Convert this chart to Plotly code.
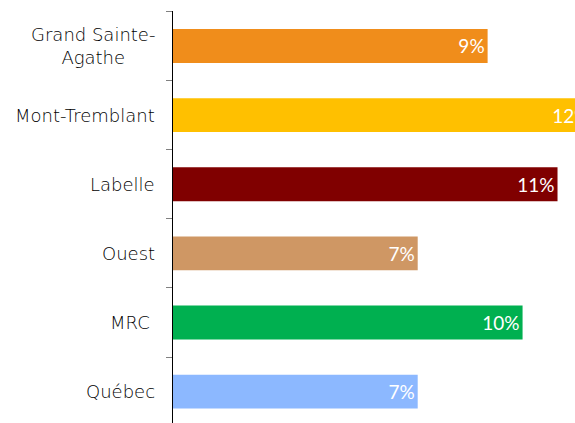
import plotly.graph_objects as go

categories = ["Grand Sainte-<br>Agathe", "Mont-Tremblant", "Labelle", "Ouest", "MRC\u00a0", "Québec"]
values = [9, 12, 11, 7, 10, 7]
labels = ["9%", "12%", "11%", "7%", "10%", "7%"]
colors = ["#F08D1B", "#FFC000", "#800000", "#CF9764", "#00B050", "#8CB8FF"]

pos = list(range(len(categories)))

fig = go.Figure()
fig.add_trace(go.Bar(
    x=values, y=pos, orientation="h", width=0.49,
    marker=dict(color=colors, line=dict(width=0)),
    text=labels, textposition="inside", insidetextanchor="end",
    textfont=dict(family="Lato", size=19, color="white"),
    constraintext="none", cliponaxis=True, hoverinfo="skip",
))

for p, c in zip(pos, categories):
    fig.add_annotation(x=0, xref="paper", y=p, yref="y", text=c, showarrow=False,
                       xanchor="right", align="center", xshift=-16,
                       font=dict(family="DejaVu Sans", size=18, color="#000000", weight=300))

fig.update_layout(
    width=575, height=423,
    margin=dict(l=173, r=0, t=11, b=0),
    paper_bgcolor="white", plot_bgcolor="white",
    showlegend=False,
    xaxis=dict(range=[0, 11.5], visible=False),
    yaxis=dict(range=[5.454, -0.506], tickvals=[-0.5, 0.5, 1.5, 2.5, 3.5, 4.5],
               showticklabels=False, ticks="outside", ticklen=6, tickcolor="#808080",
               tickwidth=1, showline=True, linecolor="black", linewidth=1,
               showgrid=False, zeroline=False),
)

fig.write_html("out.html", config={"displayModeBar": False},
               post_script="document.body.style.margin='0';document.body.style.overflow='hidden';")
